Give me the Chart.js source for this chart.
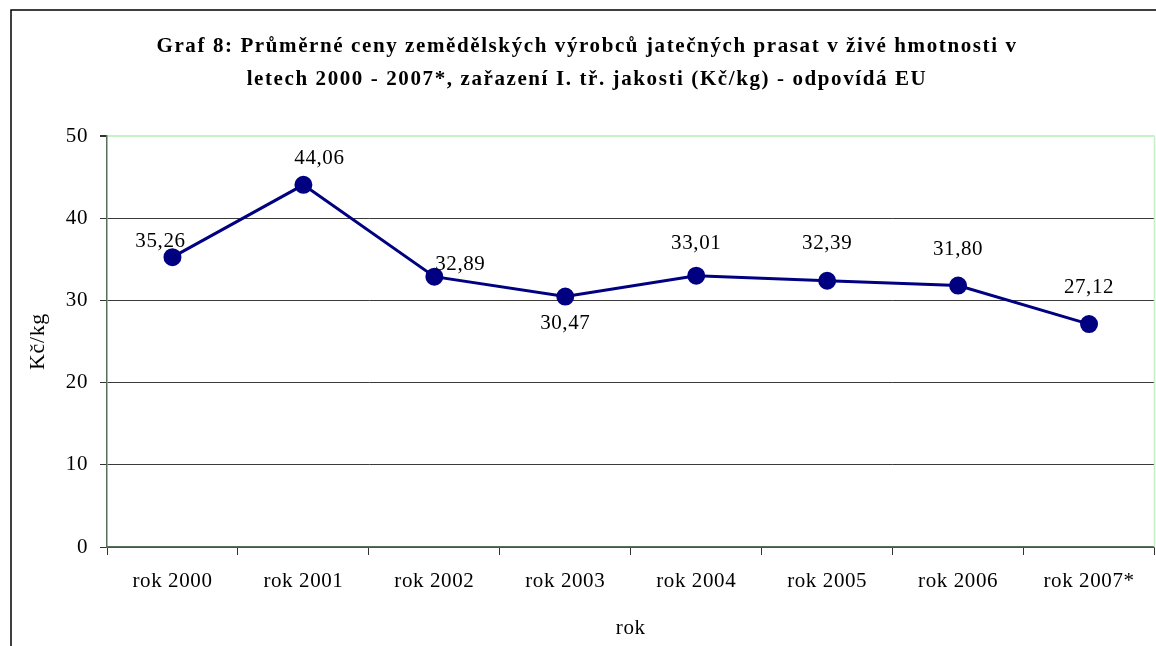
<!DOCTYPE html>
<html>
<head>
<meta charset="utf-8">
<title>Graf 8</title>
<script src="https://cdn.jsdelivr.net/npm/chart.js@4.4.1/dist/chart.umd.min.js"></script>
<style>
  html, body { margin: 0; padding: 0; background: #fff; overflow: hidden; }
  /* a bit wider than the window: the frame in the original runs off the right edge */
  #wrap { width: 1165px; height: 646px; }
</style>
</head>
<body>
<div id="wrap"><canvas id="graf"></canvas></div>
<script>
// data
var roky = ["rok 2000", "rok 2001", "rok 2002", "rok 2003", "rok 2004", "rok 2005", "rok 2006", "rok 2007*"];
var ceny = [35.26, 44.06, 32.89, 30.47, 33.01, 32.39, 31.80, 27.12];
var yTicks = [0, 10, 20, 30, 40, 50];
var titulek = ["Graf 8: Průměrné ceny zemědělských výrobců jatečných prasat v živé hmotnosti v",
               "letech 2000 - 2007*, zařazení I. tř. jakosti (Kč/kg) - odpovídá EU"];

// where each value label sits relative to its point (dx, dy in px)
var labelPos = [[-12, -16], [16, -26], [26, -12], [0, 27], [0, -32], [0, -37], [0, -36], [0, -37]];

var FONT = "'Liberation Serif', 'Times New Roman', serif";

/**
 * frame, title, light green plot border and the value labels
 * (the original text is a bit stretched, so letterSpacing is used)
 */
var excelLook = {
    id: 'excelLook',
    beforeDraw: function (chart) {
        var ctx = chart.ctx;
        ctx.save();
        ctx.fillStyle = '#fff';
        ctx.fillRect(0, 0, chart.width, chart.height);
        ctx.strokeStyle = '#000';
        ctx.lineWidth = 1.5;
        ctx.beginPath();
        ctx.moveTo(11, chart.height);
        ctx.lineTo(11, 10);
        ctx.lineTo(chart.width, 10);
        ctx.stroke();

        // title
        ctx.letterSpacing = '1.6px';
        ctx.font = 'bold 21px ' + FONT;
        ctx.fillStyle = '#000';
        ctx.textAlign = 'center';
        ctx.textBaseline = 'middle';
        ctx.fillText(titulek[0], 587, 47);
        ctx.fillText(titulek[1], 587, 80);
        ctx.restore();
        ctx.letterSpacing = '0.6px';
    },
    beforeDatasetsDraw: function (chart) {
        var a = chart.chartArea, ctx = chart.ctx;
        ctx.save();
        ctx.strokeStyle = '#c6f0c6';
        ctx.lineWidth = 1.5;
        ctx.beginPath();
        ctx.moveTo(a.right, a.bottom);
        ctx.lineTo(a.right, a.top);
        ctx.stroke();
        ctx.restore();
    },
    afterDatasetsDraw: function (chart) {
        var ctx = chart.ctx;
        var pts = chart.getDatasetMeta(0).data;
        ctx.save();
        ctx.font = '21px ' + FONT;
        ctx.fillStyle = '#000';
        ctx.textAlign = 'center';
        ctx.textBaseline = 'middle';
        pts.forEach(function (p, i) {
            var txt = ceny[i].toFixed(2).replace('.', ',');
            ctx.fillText(txt, p.x + labelPos[i][0], p.y + labelPos[i][1]);
        });
        ctx.restore();
    },
    afterDraw: function (chart) {
        chart.ctx.letterSpacing = '0px';
    }
};

var ctx = document.getElementById('graf').getContext('2d');
var chart = new Chart(ctx, {
    type: 'line',
    data: {
        labels: roky,
        datasets: [{
            data: ceny,
            borderColor: '#000080',
            backgroundColor: '#000080',
            borderWidth: 3,
            pointRadius: 7.5,
            pointHoverRadius: 7.5,
            pointBackgroundColor: '#000080',
            pointBorderColor: '#000080',
            tension: 0,
            fill: false
        }]
    },
    options: {
        responsive: true,
        maintainAspectRatio: false,
        animation: false,
        layout: { padding: { left: 10, right: 2, top: 136, bottom: 0 } },
        plugins: {
            legend: { display: false },
            tooltip: { enabled: false },
            title: { display: false }
        },
        scales: {
            x: {
                offset: true,
                grid: {
                    offset: true,
                    drawOnChartArea: false,
                    tickLength: 8,
                    tickColor: '#333',
                    tickWidth: 1
                },
                border: { color: '#56705a', width: 1.5 },
                ticks: {
                    color: '#000',
                    font: { family: FONT, size: 21 },
                    padding: 14,
                    maxRotation: 0,
                    autoSkip: false
                },
                title: {
                    display: true,
                    text: 'rok',
                    color: '#000',
                    font: { family: FONT, size: 21 },
                    padding: { top: 0, bottom: 5 }
                },
                afterFit: function (s) {
                    s.height = 99;
                }
            },
            y: {
                min: 0,
                max: 50,
                afterBuildTicks: function (s) {
                    s.ticks = yTicks.map(function (v) { return { value: v }; });
                },
                grid: {
                    color: function (c) {
                        if (c.tick && c.tick.value === 50) return '#c6f0c6';
                        return '#3a3a3a';
                    },
                    lineWidth: function (c) {
                        return (c.tick && c.tick.value === 50) ? 2 : 1;
                    },
                    tickLength: 7,
                    tickColor: '#333'
                },
                border: { color: '#56705a', width: 1.5 },
                ticks: {
                    color: '#000',
                    font: { family: FONT, size: 21 },
                    padding: 12
                },
                title: {
                    display: true,
                    text: 'Kč/kg',
                    color: '#000',
                    font: { family: FONT, size: 22 },
                    padding: { top: 15, bottom: 0 }
                },
                afterFit: function (s) {
                    s.width = 97;
                }
            }
        }
    },
    plugins: [excelLook]
});
</script>
</body>
</html>
